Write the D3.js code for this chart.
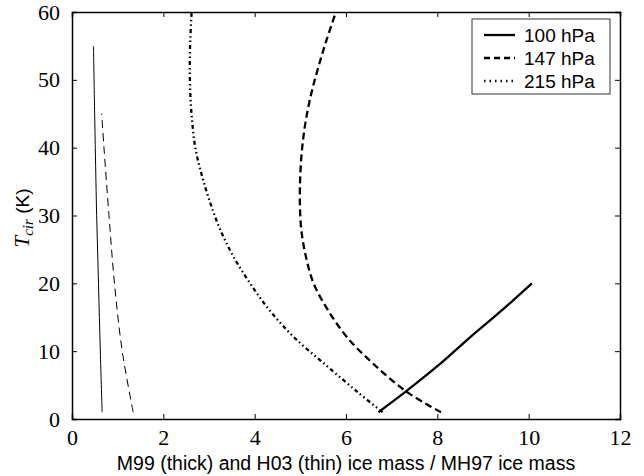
<!DOCTYPE html>
<html>
<head>
<meta charset="utf-8">
<script src="https://cdn.jsdelivr.net/npm/d3@7"></script>
<style>
  body { margin: 0; background: #fff; }
  svg { display: block; }
</style>
</head>
<body>
<svg id="chart"></svg>
<script>
const width = 644;
const height = 476;
const margin = { top: 12, right: 24, bottom: 57, left: 72 };

// M99 (thick) curves: temperature values and ice mass ratio
const t100 = [1, 4, 8, 12, 16, 20];
const m100 = [6.71, 7.30, 8.04, 8.71, 9.41, 10.07];

const t147 = [1, 4, 8, 12, 16, 20, 24, 28, 32, 36, 40, 44, 48, 52, 56, 60];
const m147 = [8.08, 7.33, 6.62, 6.03, 5.61, 5.29, 5.12, 5.02, 4.99, 5.00, 5.04, 5.12, 5.24, 5.40, 5.58, 5.78];

const t215 = [1, 4, 8, 12, 16, 20, 24, 28, 32, 36, 40, 44, 48, 52, 56, 60];
const m215 = [6.80, 6.25, 5.55, 4.87, 4.33, 3.90, 3.53, 3.24, 3.02, 2.84, 2.70, 2.63, 2.59, 2.58, 2.59, 2.62];

// H03 (thin) curves
const tThin100 = [1, 10, 20, 30, 40, 55];
const hThin100 = [0.66, 0.62, 0.58, 0.54, 0.51, 0.47];

const tThin147 = [1, 10, 20, 30, 40, 45];
const hThin147 = [1.34, 1.10, 0.93, 0.81, 0.70, 0.65];

const xTicks = [0, 2, 4, 6, 8, 10, 12];
const yTicks = [0, 10, 20, 30, 40, 50, 60];
const legendLabels = ["100 hPa", "147 hPa", "215 hPa"];

const dash147 = "7,4";
const dash215 = "4,3,1.5,3,1.5,3";

const svg = d3.select("#chart")
  .attr("width", width)
  .attr("height", height);

const x = d3.scaleLinear().domain([0, 12]).range([margin.left, width - margin.right]);
const y = d3.scaleLinear().domain([0, 60]).range([height - margin.bottom, margin.top]);

const line = d3.line()
  .x(d => x(d[0]))
  .y(d => y(d[1]))
  .curve(d3.curveCatmullRom);

function pairs(xs, ts) {
  return xs.map((v, i) => [v, ts[i]]);
}

const series = [
  { data: pairs(hThin100, tThin100), w: 1, dash: null },
  { data: pairs(hThin147, tThin147), w: 1, dash: "8,5" },
  { data: pairs(m100, t100), w: 2.3, dash: null },
  { data: pairs(m147, t147), w: 2.3, dash: dash147 },
  { data: pairs(m215, t215), w: 2.3, dash: dash215 }
];

svg.append("g")
  .selectAll("path")
  .data(series)
  .enter()
  .append("path")
  .attr("d", d => line(d.data))
  .attr("fill", "none")
  .attr("stroke", "#000")
  .attr("stroke-width", d => d.w)
  .attr("stroke-dasharray", d => d.dash);

// axes, ticks pointing inward on all four sides
const tickFont = "'Liberation Serif', 'DejaVu Serif', serif";

svg.append("g")
  .attr("transform", "translate(0," + y(0) + ")")
  .call(d3.axisBottom(x).tickValues(xTicks).tickSize(-5).tickPadding(10))
  .call(g => g.selectAll("text").attr("font-family", tickFont).attr("font-size", 22).attr("dy", "0.72em"));

svg.append("g")
  .attr("transform", "translate(0," + y(60) + ")")
  .call(d3.axisTop(x).tickValues(xTicks).tickSize(-5).tickFormat(""));

svg.append("g")
  .attr("transform", "translate(" + x(0) + ",0)")
  .call(d3.axisLeft(y).tickValues(yTicks).tickSize(-5).tickPadding(12))
  .call(g => g.selectAll("text").attr("font-family", tickFont).attr("font-size", 22));

svg.append("g")
  .attr("transform", "translate(" + x(12) + ",0)")
  .call(d3.axisRight(y).tickValues(yTicks).tickSize(-5).tickFormat(""));

svg.selectAll(".domain").attr("stroke-width", 1.5);
svg.selectAll(".tick line").attr("stroke-width", 1);

// axis labels
svg.append("text")
  .attr("x", (x(0) + x(12)) / 2)
  .attr("y", 470)
  .attr("text-anchor", "middle")
  .attr("font-family", "'Liberation Sans', Arial, sans-serif")
  .attr("font-size", 19.5)
  .text("M99 (thick) and H03 (thin) ice mass / MH97 ice mass");

const yl = svg.append("text")
  .attr("transform", "translate(29,218) rotate(-90)")
  .attr("text-anchor", "middle")
  .attr("font-family", "'Liberation Serif', serif")
  .attr("font-size", 21);
yl.append("tspan").attr("font-style", "italic").text("T");
yl.append("tspan").attr("font-style", "italic").attr("font-size", 15).attr("dy", 4).text("cir");
yl.append("tspan").attr("dy", -4).attr("font-family", "'Liberation Sans', sans-serif").attr("font-size", 19).text(" (K)");

// legend
const legend = svg.append("g").attr("transform", "translate(472,19)");
legend.append("rect")
  .attr("width", 138).attr("height", 75)
  .attr("fill", "#fff").attr("stroke", "#333").attr("stroke-width", 1);

const legendStyles = [null, "6,4", "1.5,4"];
legendLabels.forEach((lab, i) => {
  const ly = 16 + i * 23;
  legend.append("line")
    .attr("x1", 12).attr("x2", 43).attr("y1", ly).attr("y2", ly)
    .attr("stroke", "#000").attr("stroke-width", 2.3)
    .attr("stroke-dasharray", legendStyles[i]);
  legend.append("text")
    .attr("x", 52).attr("y", ly + 7)
    .attr("font-family", "'Liberation Sans', Arial, sans-serif")
    .attr("font-size", 19)
    .text(lab);
});
</script>
</body>
</html>
